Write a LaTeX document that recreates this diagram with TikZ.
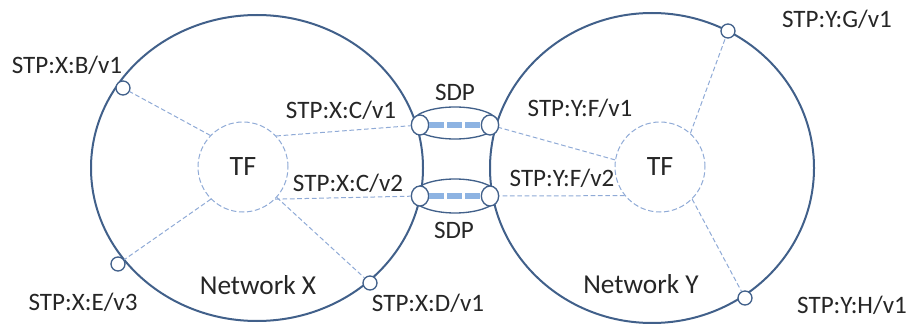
\documentclass[tikz,border=0pt]{standalone}
\usepackage{fontspec}
\setmainfont{Carlito}
\usetikzlibrary{shapes.geometric}
\definecolor{netblue}{RGB}{65,96,138}
\definecolor{tfblue}{RGB}{143,170,214}
\definecolor{sdpblue}{RGB}{141,179,226}
\tikzset{every picture/.style={line width=0.75pt}}
\tikzset{
  netline/.style={draw=netblue, line width=1.5pt},
  stp/.style={circle, draw=netblue, fill=white, line width=1pt, minimum size=10.5pt, inner sep=0pt},
  sdpend/.style={ellipse, draw=netblue, fill=white, line width=1pt, minimum width=13pt, minimum height=15pt, inner sep=0pt},
  tfnode/.style={circle, draw=tfblue, dash pattern=on 4pt off 2pt, minimum size=67.5pt, inner sep=0pt, font=\fontsize{21}{24}\selectfont, text=black!85},
  tfline/.style={draw=tfblue, dash pattern=on 3.5pt off 2pt},
  sdplink/.style={draw=sdpblue, line width=4.5pt, dash pattern=on 11pt off 2.5pt},
  lbl/.style={inner sep=0.75pt, font=\fontsize{18.8}{22}\selectfont, text=black!85},
  netlbl/.style={lbl, font=\fontsize{20.5}{24}\selectfont}
}
\begin{document}
\begin{tikzpicture}[x=0.75pt,y=0.75pt,yscale=-1,xscale=1]
\useasboundingbox (0,0) rectangle (910,324);
%Shape: Ellipse [id:netx] 
\draw [netline] (257,168) ellipse [x radius=166, y radius=153];
%Shape: Ellipse [id:nety] 
\draw [netline] (652,168) ellipse [x radius=162, y radius=155];
%Shape: Ellipse [id:sdp1] 
\draw [netline, line width=1pt] (455,123) ellipse [x radius=43, y radius=16];
%Shape: Ellipse [id:sdp2] 
\draw [netline, line width=1pt] (455,196) ellipse [x radius=43, y radius=17];

% Transfer functions
\node [tfnode] (tfx) at (243,167) {TF};
\node [tfnode] (tfy) at (660,167) {TF};

% STPs on the edges
\node [stp] (stpxb) at (123,88) {};
\node [stp] (stpxe) at (118,264) {};
\node [stp] (stpxd) at (370,283) {};
\node [stp] (stpyg) at (728,31) {};
\node [stp] (stpyh) at (745,298) {};
\node [sdpend] (stpxc1) at (420,125) {};
\node [sdpend] (stpxc2) at (420,196) {};
\node [sdpend] (stpyf1) at (490,125) {};
\node [sdpend] (stpyf2) at (490,196) {};

% Internal links
\draw [tfline] (tfx.136) -- (stpxb);
\draw [tfline] (tfx.225) -- (stpxe);
\draw [tfline] (tfx.318) -- (stpxd);
\draw [tfline] (tfx.43) -- (stpxc1);
\draw [tfline] (tfx.315) -- (stpxc2);
\draw [tfline] (tfy.171) -- (stpyf1);
\draw [tfline] (tfy.219) -- (stpyf2);
\draw [tfline] (tfy.48) -- (stpyg);
\draw [tfline] (tfy.315) -- (stpyh);
% SDP links
\draw [sdplink] (stpxc1) -- (stpyf1);
\draw [sdplink] (stpxc2) -- (stpyf2);

% Text Node
\node [lbl] (lblxb) at (67,65) {STP:X:B/v1};
% Text Node
\node [lbl] (lblxe) at (83,302) {STP:X:E/v3};
% Text Node
\node [lbl] (lblxd) at (428,303) {STP:X:D/v1};
% Text Node
\node [lbl] (lblxc1) at (341,110) {STP:X:C/v1};
% Text Node
\node [lbl] (lblxc2) at (348,183) {STP:X:C/v2};
% Text Node
\node [lbl] (lblyf1) at (580,108) {STP:Y:F/v1};
% Text Node
\node [lbl] (lblyf2) at (562,178) {STP:Y:F/v2};
% Text Node
\node [lbl] (lblyg) at (837,19) {STP:Y:G/v1};
% Text Node
\node [lbl] (lblyh) at (852,305) {STP:Y:H/v1};
% Text Node
\node [lbl] (lblsdp1) at (455,92) {SDP};
% Text Node
\node [lbl] (lblsdp2) at (454,230) {SDP};
% Text Node
\node [netlbl] (lblnetx) at (258,285) {Network X};
% Text Node
\node [netlbl] (lblnety) at (641,284) {Network Y};
\end{tikzpicture}
\end{document}
